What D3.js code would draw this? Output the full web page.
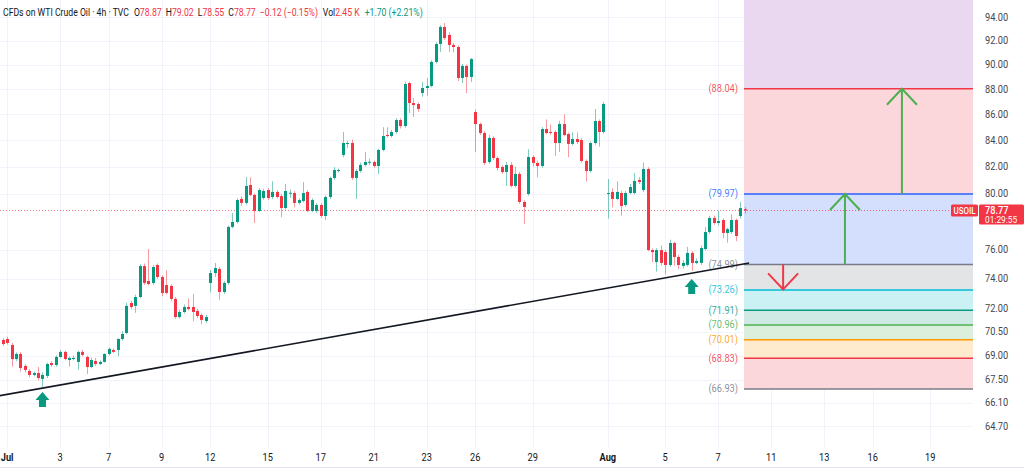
<!DOCTYPE html>
<html>
<head>
<meta charset="utf-8">
<script src="https://cdn.jsdelivr.net/npm/d3@7"></script>
<style>
  html, body { margin: 0; padding: 0; background: #fff; overflow: hidden; }
  text { font-family: Roboto, "Noto Sans", sans-serif; }
</style>
</head>
<body>
<div id="chart"></div>
<script>
// 4h candles, USOIL, Jul 1 -> Aug 8 (index = bar number)
const opens = [69.99,70.05,69.67,68.78,69.10,68.35,68.04,67.79,67.91,67.54,67.73,68.53,68.41,68.91,69.23,68.72,68.78,68.60,69.23,68.91,
  68.28,68.66,68.47,68.60,69.10,69.35,69.35,70.05,70.44,72.39,72.20,72.79,74.88,73.86,73.73,74.95,74.13,73.59,73.53,72.66,
  71.47,71.80,72.13,72.13,71.87,71.60,71.21,73.73,74.40,74.68,73.12,73.73,77.60,77.95,79.61,79.32,80.63,79.90,78.74,79.68,
  80.26,79.75,80.12,79.82,78.95,80.04,80.04,79.32,79.46,80.12,78.74,78.74,79.17,78.38,79.75,81.15,81.67,82.87,83.71,83.78,
  81.15,81.67,82.12,82.34,82.34,82.04,83.25,84.40,84.32,84.63,85.56,85.09,88.50,86.90,86.82,87.70,88.10,88.26,90.22,91.71,
  93.15,92.47,91.63,91.46,88.91,89.89,88.99,86.19,85.25,84.55,82.34,84.17,82.64,81.97,81.59,82.12,80.56,81.45,79.39,79.97,
  82.72,82.27,82.04,84.86,84.63,84.63,83.78,85.25,84.47,83.71,84.09,84.01,82.42,81.67,83.78,85.48,84.63,79.97,80.12,79.61,
  80.04,79.17,80.04,80.04,81.00,80.26,81.82,75.98,75.15,75.98,75.84,74.95,76.47,75.50,74.88,74.95,75.78,75.09,75.09,76.05,
  77.24,78.24,77.88,78.09,77.17,77.24,78.09,78.38,78.87];
const highs = [70.10,70.20,69.80,69.20,69.23,68.45,68.15,68.00,68.28,67.95,68.55,68.65,69.00,69.35,69.30,68.95,69.00,69.30,69.35,69.00,
  68.85,68.85,68.70,69.15,69.50,69.45,70.10,70.55,72.40,72.55,72.95,75.00,75.05,76.05,74.95,75.05,74.25,74.60,73.65,72.80,
  71.95,72.30,72.70,73.00,72.00,71.70,71.60,74.60,75.09,74.80,73.85,77.70,78.60,79.65,79.80,81.22,81.20,80.00,80.40,80.35,
  80.40,80.90,80.25,79.95,80.70,80.30,80.20,79.65,80.85,80.25,79.65,79.30,79.30,79.85,81.25,81.95,81.85,84.63,83.95,84.05,
  81.80,82.30,83.10,82.60,82.45,83.35,85.00,85.00,84.80,85.70,85.70,88.60,88.60,87.30,86.95,88.60,88.90,90.35,91.85,93.30,
  93.48,92.70,91.80,91.60,90.05,90.00,90.55,86.40,85.35,84.70,84.40,84.30,82.75,82.10,82.35,82.34,82.00,81.60,79.50,83.30,
  82.85,82.45,85.00,85.60,85.20,84.75,85.50,86.00,84.60,84.60,84.60,84.15,82.55,83.90,86.43,85.60,87.00,81.07,80.40,80.90,
  80.20,80.20,80.70,81.52,81.20,82.30,81.95,76.10,76.10,76.30,76.00,76.70,76.55,75.65,75.30,76.20,75.90,75.40,76.30,77.60,
  78.40,78.40,78.75,78.20,77.55,78.50,78.20,79.39,79.02];
const lows = [69.60,69.70,68.30,68.65,68.00,67.95,67.65,67.70,67.45,67.05,67.60,68.30,68.30,68.85,68.70,68.30,68.70,68.10,68.95,67.85,
  68.20,68.35,68.40,68.55,69.00,69.15,68.95,69.95,70.35,72.00,71.75,72.70,73.60,73.55,73.60,74.00,72.85,72.95,72.50,71.35,
  71.35,71.70,71.90,71.20,71.40,71.00,71.10,73.10,74.13,72.60,73.00,73.60,77.50,77.85,79.10,79.20,79.80,77.88,78.65,79.55,
  79.55,79.60,79.65,78.30,78.85,79.70,79.00,79.20,79.35,78.65,78.65,78.60,78.25,78.09,79.60,81.00,81.55,82.70,83.40,81.00,
  79.61,81.55,82.00,82.10,81.90,81.45,83.15,84.20,84.20,84.50,84.90,84.95,86.11,85.80,86.20,87.40,87.50,88.15,90.10,91.05,
  92.05,91.05,91.00,88.66,88.50,87.70,88.58,83.10,84.40,82.10,82.20,82.50,81.70,81.45,80.56,80.45,80.45,79.25,77.81,79.85,
  82.00,81.20,81.90,84.45,84.40,82.80,83.10,84.30,82.70,83.60,83.70,82.30,80.90,81.55,83.65,83.50,84.50,78.20,79.00,79.50,
  78.40,79.05,79.95,79.95,80.70,80.10,75.90,75.15,74.50,74.90,74.30,74.80,74.90,74.68,74.70,74.85,74.55,75.00,74.95,75.95,
  77.10,77.75,77.70,76.80,76.50,77.10,76.60,78.20,78.55];
const closes = [69.73,69.80,68.78,69.10,68.22,68.10,67.79,67.91,67.60,67.79,68.47,68.41,68.91,69.23,68.78,68.85,68.85,69.23,69.04,68.28,
  68.72,68.47,68.60,69.10,69.42,69.23,70.05,70.37,72.20,72.13,72.79,74.88,73.73,73.66,74.81,74.13,73.06,73.06,72.66,71.47,
  71.80,72.13,72.00,71.80,71.54,71.28,71.47,74.40,74.74,73.12,73.73,77.60,77.95,79.53,79.32,80.56,79.90,78.74,80.26,80.19,
  79.68,80.12,79.75,78.95,80.19,80.06,79.32,79.53,80.04,78.74,79.53,79.17,78.38,79.75,81.15,81.74,81.74,83.78,83.78,81.15,
  81.67,82.12,82.34,82.36,82.04,83.25,84.32,84.32,84.63,85.56,85.09,88.42,86.90,86.74,86.43,88.10,88.26,90.22,91.71,93.15,
  92.21,91.63,91.46,88.91,89.89,88.99,90.46,85.25,84.55,82.27,84.17,82.64,81.89,81.59,82.12,80.56,81.45,79.39,79.03,82.72,
  82.27,82.04,84.86,84.55,84.60,83.78,85.25,84.40,83.71,84.09,83.86,82.42,81.67,83.78,85.48,84.63,86.82,80.04,79.61,80.12,
  79.10,80.04,80.48,80.93,80.85,81.82,75.98,75.84,75.98,75.09,74.95,76.47,75.50,74.95,75.09,75.78,75.09,75.22,76.12,77.24,
  78.24,77.88,78.02,77.17,77.45,78.09,76.96,78.95,78.77];

// bottom axis: bar index of each date label
const dateTickIdx = [1, 13, 24, 36, 47, 60, 72, 84, 96, 107, 120, 137, 150, 162, 174, 186, 197, 210];
const dateTickLabels = ["Jul","3","7","9","12","15","17","21","23","26","29","Aug","5","7","11","13","16","19"];
const priceTicks = [94, 92, 90, 88, 86, 84, 82, 80, 76, 74, 72, 70.5, 69, 67.5, 66.1, 64.7];

// fibonacci-style projection levels
const fibLevels = [88.04, 79.97, 74.99, 73.26, 71.91, 70.96, 70.01, 68.83, 66.93];
const fibLineColors = ["#f23645","#2962ff","#787b86","#00bcd4","#089981","#4caf50","#ff9800","#f23645","#787b86"];
const fibFillColors = ["#fbd6da","#d3dffd","#e3e4e6","#ccf1f5","#cfeae5","#dcefdc","#feeacd","#fbd6da"];
const fibTopFill = "#ead7f0";

// trend line and markers
const trendIdx = [-1, 169];
const trendPrice = [66.50, 75.08];
const markIdx = [9, 156];
const markPrice = [66.74, 74.00];
const upArrows = [{ idx: 190.7, from: 74.99, to: 79.97 }, { idx: 203.6, from: 79.97, to: 88.04 }];
const downArrow = { idx: 176.7, from: 74.99, to: 73.30 };

// legend values
const headerTitle = "CFDs on WTI Crude Oil · 4h · TVC";
const headerChange = "\u22120.12 (\u22120.15%)";
const headerVolume = "2.45 K";
const headerExtra = "+1.70 (+2.21%)";
const lastPrice = 78.77;
const timer = "01:29:55";

const UP = "#089981", DOWN = "#f23645", INK = "#131722";
const W = 1024, H = 472, plotRight = 973, plotBottom = 447;
const SX = 0.88; // screenshot axis text is slightly narrow

const svg = d3.select("#chart").append("svg")
  .attr("width", W).attr("height", H);

const x = d3.scaleLinear().domain([0, 168]).range([2.7, 744.7]);
const y = d3.scaleLog().domain([64.7, 94]).range([426, 17]);

function label(g, px, py, str, sx = SX) {
  return g.append("text")
    .attr("transform", `translate(${px},${py}) scale(${sx},1)`)
    .text(str);
}

// grid
const grid = svg.append("g").attr("stroke", "#f0f3fa").attr("stroke-width", 1);
grid.selectAll("line.h").data(priceTicks).enter().append("line")
  .attr("x1", 0).attr("x2", plotRight)
  .attr("y1", d => Math.round(y(d)) + 0.5).attr("y2", d => Math.round(y(d)) + 0.5);
grid.selectAll("line.v").data(dateTickIdx).enter().append("line")
  .attr("y1", 0).attr("y2", plotBottom)
  .attr("x1", d => Math.round(x(d)) + 0.5).attr("x2", d => Math.round(x(d)) + 0.5);

// projection box
const boxLeft = x(168) - 0.7;
const fib = svg.append("g");
fib.append("rect")
  .attr("x", boxLeft).attr("y", 0)
  .attr("width", plotRight - boxLeft).attr("height", y(fibLevels[0]))
  .attr("fill", fibTopFill);
fib.selectAll("rect.band").data(fibFillColors).enter().append("rect")
  .attr("x", boxLeft)
  .attr("y", (d, i) => y(fibLevels[i]))
  .attr("width", plotRight - boxLeft)
  .attr("height", (d, i) => y(fibLevels[i + 1]) - y(fibLevels[i]))
  .attr("fill", d => d);
fib.selectAll("line").data(fibLevels).enter().append("line")
  .attr("x1", boxLeft).attr("x2", plotRight)
  .attr("y1", d => y(d)).attr("y2", d => y(d))
  .attr("stroke", (d, i) => fibLineColors[i]).attr("stroke-width", 1.5);
fib.selectAll("text").data(fibLevels).enter().append("text")
  .attr("transform", d => `translate(${boxLeft - 6},${y(d) + 3.5}) scale(${SX},1)`)
  .attr("text-anchor", "end")
  .attr("font-size", 10.5)
  .attr("fill", (d, i) => fibLineColors[i])
  .attr("fill-opacity", 0.85)
  .text(d => `(${d.toFixed(2)})`);

// current price dotted line
svg.append("line")
  .attr("x1", 0).attr("x2", plotRight)
  .attr("y1", y(lastPrice)).attr("y2", y(lastPrice))
  .attr("stroke", DOWN).attr("stroke-opacity", 0.7)
  .attr("stroke-dasharray", "1,2");

// trend line
svg.append("line")
  .attr("x1", x(trendIdx[0])).attr("y1", y(trendPrice[0]))
  .attr("x2", x(trendIdx[1])).attr("y2", y(trendPrice[1]))
  .attr("stroke", INK).attr("stroke-width", 1.6);

// candles
const bars = d3.range(opens.length);
const cg = svg.append("g");
cg.selectAll("line").data(bars).enter().append("line")
  .attr("x1", i => Math.round(x(i)) + 0.5).attr("x2", i => Math.round(x(i)) + 0.5)
  .attr("y1", i => y(highs[i])).attr("y2", i => y(lows[i]))
  .attr("stroke", i => closes[i] >= opens[i] ? UP : DOWN)
  .attr("stroke-opacity", 0.5);
cg.selectAll("rect").data(bars).enter().append("rect")
  .attr("x", i => Math.round(x(i)) - 1)
  .attr("width", 3)
  .attr("y", i => y(Math.max(opens[i], closes[i])))
  .attr("height", i => Math.max(1, Math.abs(y(opens[i]) - y(closes[i]))))
  .attr("fill", i => closes[i] >= opens[i] ? UP : DOWN);

// block arrows under the swing lows
svg.selectAll("path.mark").data(markIdx).enter().append("path")
  .attr("transform", (d, i) => `translate(${x(d)},${y(markPrice[i])})`)
  .attr("d", "M0,0 L7,8 L3.5,8 L3.5,15 L-3.5,15 L-3.5,8 L-7,8 Z")
  .attr("fill", UP);

// projection arrows
function arrow(a, color) {
  const ax = x(a.idx), y0 = y(a.from), y1 = y(a.to);
  const dir = y1 < y0 ? 1 : -1;
  const g = svg.append("g").attr("stroke", color).attr("stroke-width", 2).attr("fill", "none");
  g.append("line").attr("x1", ax).attr("x2", ax).attr("y1", y0).attr("y2", y1);
  g.append("path").attr("d", `M${ax - 15},${y1 + dir * 16} L${ax},${y1} L${ax + 15},${y1 + dir * 16}`);
}
upArrows.forEach(a => arrow(a, "#4caf50"));
arrow(downArrow, DOWN);

// right price axis
const ya = svg.append("g").attr("font-size", 10.5).attr("fill", "#434651");
priceTicks.forEach(p => label(ya, 985, y(p) + 3.5, p.toFixed(2)));

// last price tags
const ly = y(lastPrice);
svg.append("rect").attr("x", 951).attr("y", ly - 6).attr("width", 27).attr("height", 12)
  .attr("rx", 1.5).attr("fill", DOWN);
label(svg, 964.5, ly + 3.5, "USOIL")
  .attr("text-anchor", "middle").attr("font-size", 9).attr("font-weight", 500).attr("fill", "#fff");
svg.append("rect").attr("x", 979).attr("y", ly - 6).attr("width", 45).attr("height", 20)
  .attr("rx", 1.5).attr("fill", DOWN);
label(svg, 985, ly + 3.5, lastPrice.toFixed(2))
  .attr("font-size", 10.5).attr("font-weight", 500).attr("fill", "#fff");
label(svg, 985, ly + 12.5, timer)
  .attr("font-size", 9.5).attr("fill", "#fff");

// bottom date axis
const xa = svg.append("g").attr("font-size", 10.5).attr("fill", INK);
dateTickIdx.forEach((d, i) => {
  label(xa, x(d), 461, dateTickLabels[i])
    .attr("text-anchor", "middle")
    .attr("font-weight", isNaN(+dateTickLabels[i]) ? 700 : 400);
});
svg.append("line").attr("x1", 0).attr("x2", W).attr("y1", 467.5).attr("y2", 467.5)
  .attr("stroke", "#e0e3eb");

// legend header: one text line, squeezed to the width it has in the screenshot
const last = opens.length - 1;
const hd = svg.append("text").attr("font-size", 10.5).attr("fill", INK);
const parts = [
  [headerTitle, INK, 0],
  ["O", INK, 6], [opens[last].toFixed(2), DOWN, 0],
  ["H", INK, 5], [highs[last].toFixed(2), DOWN, 0],
  ["L", INK, 5], [lows[last].toFixed(2), DOWN, 0],
  ["C", INK, 5], [closes[last].toFixed(2), DOWN, 0],
  [headerChange, DOWN, 5],
  ["Vol", INK, 6], [headerVolume, DOWN, 0],
  [headerExtra, UP, 6]
];
parts.forEach(p => hd.append("tspan").attr("dx", p[2]).attr("fill", p[1]).text(p[0]));
const hw = hd.node().getComputedTextLength();
hd.attr("transform", `translate(3,16) scale(${389 / hw},1)`);
</script>
</body>
</html>
